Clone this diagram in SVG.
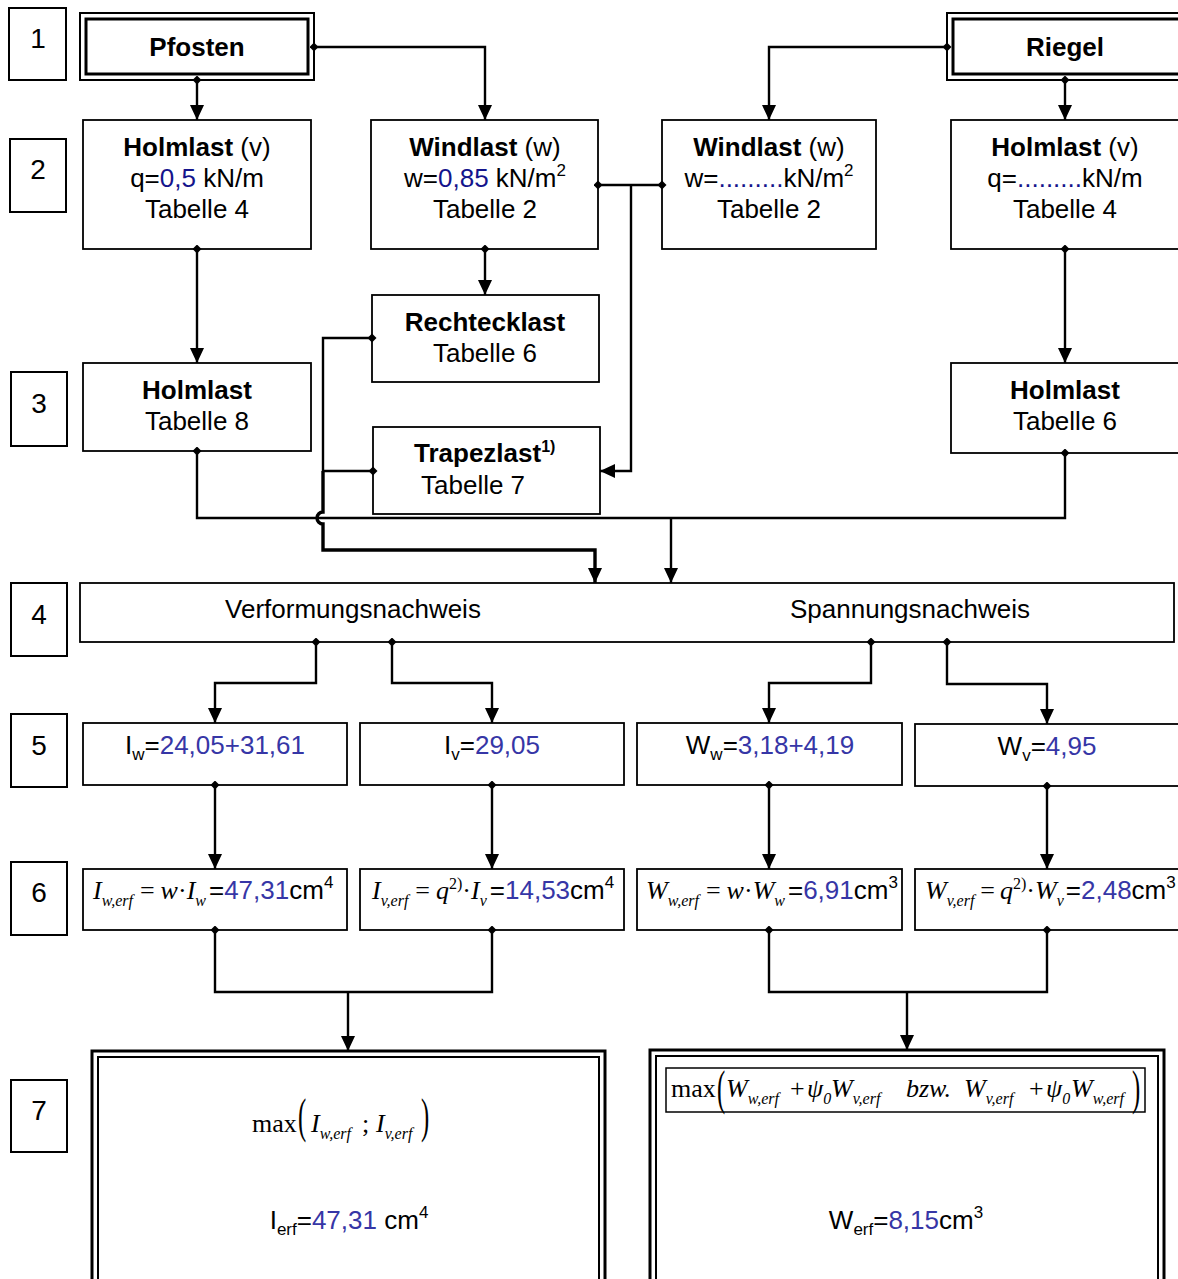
<svg xmlns="http://www.w3.org/2000/svg" width="1178" height="1279" viewBox="0 0 1178 1279">
  <style>
    .bg { fill: #ffffff; }
    .box { fill: #ffffff; stroke: #000000; stroke-width: 1.8; }
    .num { fill: #ffffff; stroke: #000000; stroke-width: 2; }
    .outer { fill: #ffffff; stroke: #000000; stroke-width: 2; }
    .inner { fill: none; stroke: #000000; stroke-width: 3; }
    .outer7 { fill: #ffffff; stroke: #000000; stroke-width: 3; }
    .inner7 { fill: none; stroke: #000000; stroke-width: 2; }
    .fbox { fill: none; stroke: #000000; stroke-width: 1.5; }
    text { font-family: 'Liberation Sans', Arial, sans-serif; font-size: 26px; fill: #000000; }
    .c { text-anchor: middle; }
    .b { font-weight: bold; }
    .nlab { font-size: 28px; text-anchor: middle; }
    .navy { fill: #14148c; }
    .blue { fill: #3636a6; }
    .sub { font-size: 17px; }
    .mr { font-family: 'Liberation Serif', 'Times New Roman', serif; font-size: 26px; }
    .mi { font-family: 'Liberation Serif', 'Times New Roman', serif; font-style: italic; font-size: 26px; }
    .ms { font-family: 'Liberation Serif', 'Times New Roman', serif; font-style: italic; font-size: 16px; }
    .msr { font-family: 'Liberation Serif', 'Times New Roman', serif; font-size: 16px; }
    .ln { fill: none; stroke: #000000; stroke-width: 2.4; }
    .thick { fill: none; stroke: #000000; stroke-width: 3.4; }
    .arr { marker-end: url(#arrow); }
    .ds { marker-start: url(#dia); }
    .de { marker-end: url(#dia); }
  </style>
  <defs>
    <marker id="arrow" markerUnits="userSpaceOnUse" markerWidth="16" markerHeight="15" refX="15" refY="7" orient="auto">
      <path d="M0,0 L15,7 L0,14 Z" fill="#000000"/>
    </marker>
    <marker id="dia" markerUnits="userSpaceOnUse" markerWidth="9" markerHeight="9" refX="4.5" refY="4.5" orient="auto">
      <path d="M0,4.5 L4.5,0 L9,4.5 L4.5,9 Z" fill="#000000"/>
    </marker>
  </defs>

  <rect class="bg" x="0" y="0" width="1178" height="1279"/>

  <!-- row numbers -->
  <g id="row-numbers">
    <rect class="num" x="9" y="8" width="57" height="72"/>
    <text class="nlab" x="38" y="48">1</text>
    <rect class="num" x="10" y="139" width="56" height="73"/>
    <text class="nlab" x="38" y="179">2</text>
    <rect class="num" x="11" y="372" width="56" height="74"/>
    <text class="nlab" x="39" y="413">3</text>
    <rect class="num" x="11" y="583" width="56" height="73"/>
    <text class="nlab" x="39" y="624">4</text>
    <rect class="num" x="11" y="714" width="56" height="73"/>
    <text class="nlab" x="39" y="755">5</text>
    <rect class="num" x="11" y="862" width="56" height="73"/>
    <text class="nlab" x="39" y="902">6</text>
    <rect class="num" x="11" y="1080" width="56" height="72"/>
    <text class="nlab" x="39" y="1120">7</text>
  </g>

  <!-- row 1 -->
  <g id="pfosten">
    <rect class="outer" x="80" y="13" width="234" height="67"/>
    <rect class="inner" x="86" y="19" width="222" height="55"/>
    <text class="c b" x="197" y="56">Pfosten</text>
  </g>
  <g id="riegel">
    <rect class="outer" x="947" y="13" width="240" height="67"/>
    <rect class="inner" x="953" y="19" width="228" height="55"/>
    <text class="c b" x="1065" y="56">Riegel</text>
  </g>

  <!-- row 2 -->
  <g id="holmlast-pfosten">
    <rect class="box" x="83" y="120" width="228" height="129"/>
    <text class="c" x="197" y="156"><tspan class="b">Holmlast</tspan> (v)</text>
    <text class="c" x="197" y="187">q=<tspan class="navy">0,5</tspan> kN/m</text>
    <text class="c" x="197" y="218">Tabelle 4</text>
  </g>
  <g id="windlast-pfosten">
    <rect class="box" x="371" y="120" width="227" height="129"/>
    <text class="c" x="485" y="156"><tspan class="b">Windlast</tspan> (w)</text>
    <text class="c" x="485" y="187">w=<tspan class="navy">0,85</tspan> kN/m<tspan class="sub" dy="-11">2</tspan></text>
    <text class="c" x="485" y="218">Tabelle 2</text>
  </g>
  <g id="windlast-riegel">
    <rect class="box" x="662" y="120" width="214" height="129"/>
    <text class="c" x="769" y="156"><tspan class="b">Windlast</tspan> (w)</text>
    <text class="c" x="769" y="187">w=<tspan class="navy">.........</tspan>kN/m<tspan class="sub" dy="-11">2</tspan></text>
    <text class="c" x="769" y="218">Tabelle 2</text>
  </g>
  <g id="holmlast-riegel">
    <rect class="box" x="951" y="120" width="232" height="129"/>
    <text class="c" x="1065" y="156"><tspan class="b">Holmlast</tspan> (v)</text>
    <text class="c" x="1065" y="187">q=<tspan class="navy">.........</tspan>kN/m</text>
    <text class="c" x="1065" y="218">Tabelle 4</text>
  </g>

  <!-- row 3 -->
  <g id="rechtecklast">
    <rect class="box" x="372" y="295" width="227" height="87"/>
    <text class="c b" x="485" y="331">Rechtecklast</text>
    <text class="c" x="485" y="362">Tabelle 6</text>
  </g>
  <g id="holmlast-tab8">
    <rect class="box" x="83" y="363" width="228" height="88"/>
    <text class="c b" x="197" y="399">Holmlast</text>
    <text class="c" x="197" y="430">Tabelle 8</text>
  </g>
  <g id="holmlast-tab6">
    <rect class="box" x="951" y="363" width="232" height="90"/>
    <text class="c b" x="1065" y="399">Holmlast</text>
    <text class="c" x="1065" y="430">Tabelle 6</text>
  </g>
  <g id="trapezlast">
    <rect class="box" x="373" y="427" width="227" height="87"/>
    <text class="b" x="414" y="462">Trapezlast<tspan font-size="16" dy="-10">1)</tspan></text>
    <text x="421" y="494">Tabelle 7</text>
  </g>

  <!-- row 4 -->
  <g id="nachweis">
    <rect class="box" x="80" y="583" width="1094" height="59"/>
    <text class="c" x="353" y="618">Verformungsnachweis</text>
    <text class="c" x="910" y="618">Spannungsnachweis</text>
  </g>

  <!-- row 5 -->
  <g id="iw">
    <rect class="box" x="83" y="723" width="264" height="62"/>
    <text class="c" x="215" y="754">I<tspan class="sub" dy="6">w</tspan><tspan dy="-6">=</tspan><tspan class="blue">24,05+31,61</tspan></text>
  </g>
  <g id="iv">
    <rect class="box" x="360" y="723" width="264" height="62"/>
    <text class="c" x="492" y="754">I<tspan class="sub" dy="6">v</tspan><tspan dy="-6">=</tspan><tspan class="blue">29,05</tspan></text>
  </g>
  <g id="ww">
    <rect class="box" x="637" y="723" width="265" height="62"/>
    <text class="c" x="770" y="754">W<tspan class="sub" dy="6">w</tspan><tspan dy="-6">=</tspan><tspan class="blue">3,18+4,19</tspan></text>
  </g>
  <g id="wv">
    <rect class="box" x="915" y="724" width="270" height="62"/>
    <text class="c" x="1047" y="755">W<tspan class="sub" dy="6">v</tspan><tspan dy="-6">=</tspan><tspan class="blue">4,95</tspan></text>
  </g>

  <!-- row 6 -->
  <g id="iw-erf">
    <rect class="box" x="83" y="869" width="264" height="61"/>
    <text x="93" y="899"><tspan class="mi">I</tspan><tspan class="ms" dy="7">w,erf</tspan><tspan class="mr" dy="-7" dx="7">=</tspan><tspan class="mi" dx="6">w</tspan><tspan class="mr">·</tspan><tspan class="mi">I</tspan><tspan class="ms" dy="7">w</tspan><tspan dy="-7" dx="3">=</tspan><tspan class="blue">47,31</tspan>cm<tspan class="sub" dy="-11">4</tspan></text>
  </g>
  <g id="iv-erf">
    <rect class="box" x="360" y="869" width="264" height="61"/>
    <text x="372" y="899"><tspan class="mi">I</tspan><tspan class="ms" dy="7">v,erf</tspan><tspan class="mr" dy="-7" dx="7">=</tspan><tspan class="mi" dx="6">q</tspan><tspan class="msr" dy="-10">2)</tspan><tspan class="mr" dy="10">·</tspan><tspan class="mi">I</tspan><tspan class="ms" dy="7">v</tspan><tspan dy="-7" dx="3">=</tspan><tspan class="blue">14,53</tspan>cm<tspan class="sub" dy="-11">4</tspan></text>
  </g>
  <g id="ww-erf">
    <rect class="box" x="637" y="869" width="265" height="61"/>
    <text x="646" y="899"><tspan class="mi">W</tspan><tspan class="ms" dy="7">w,erf</tspan><tspan class="mr" dy="-7" dx="7">=</tspan><tspan class="mi" dx="6">w</tspan><tspan class="mr">·</tspan><tspan class="mi">W</tspan><tspan class="ms" dy="7">w</tspan><tspan dy="-7" dx="3">=</tspan><tspan class="blue">6,91</tspan>cm<tspan class="sub" dy="-11">3</tspan></text>
  </g>
  <g id="wv-erf">
    <rect class="box" x="915" y="869" width="270" height="61"/>
    <text x="925" y="899"><tspan class="mi">W</tspan><tspan class="ms" dy="7">v,erf</tspan><tspan class="mr" dy="-7" dx="6">=</tspan><tspan class="mi" dx="5">q</tspan><tspan class="msr" dy="-10">2)</tspan><tspan class="mr" dy="10">·</tspan><tspan class="mi">W</tspan><tspan class="ms" dy="7">v</tspan><tspan dy="-7" dx="2">=</tspan><tspan class="blue">2,48</tspan>cm<tspan class="sub" dy="-11">3</tspan></text>
  </g>

  <!-- row 7 -->
  <g id="i-erf">
    <rect class="outer7" x="92" y="1051" width="513" height="240"/>
    <rect class="inner7" x="98" y="1057" width="501" height="240"/>
    <text class="mr" x="252" y="1132">max</text>
    <text class="mr" transform="translate(298,1132) scale(0.95,1.9)">(</text>
    <text class="mi" x="311" y="1132">I<tspan class="ms" dy="7">w,erf</tspan></text>
    <text class="mr" x="362" y="1132">;</text>
    <text class="mi" x="376" y="1132">I<tspan class="ms" dy="7">v,erf</tspan></text>
    <text class="mr" transform="translate(421,1132) scale(0.95,1.9)">)</text>
    <text class="c" x="349" y="1229">I<tspan class="sub" dy="6">erf</tspan><tspan dy="-6">=</tspan><tspan class="blue">47,31</tspan> cm<tspan class="sub" dy="-11">4</tspan></text>
  </g>
  <g id="w-erf">
    <rect class="outer7" x="650" y="1050" width="514" height="240"/>
    <rect class="inner7" x="656" y="1056" width="502" height="240"/>
    <rect class="fbox" x="666" y="1068" width="479" height="44"/>
    <text class="mr" x="671" y="1097">max</text>
    <text class="mr" transform="translate(717,1104) scale(0.95,1.9)">(</text>
    <text class="mi" x="726" y="1097">W<tspan class="ms" dy="7">w,erf</tspan></text>
    <text class="mr" x="790" y="1097">+</text>
    <text class="mi" x="807" y="1097">ψ<tspan class="msr" dy="7">0</tspan></text>
    <text class="mi" x="831" y="1097">W<tspan class="ms" dy="7">v,erf</tspan></text>
    <text class="mi" x="906" y="1097">bzw.</text>
    <text class="mi" x="964" y="1097">W<tspan class="ms" dy="7">v,erf</tspan></text>
    <text class="mr" x="1029" y="1097">+</text>
    <text class="mi" x="1046" y="1097">ψ<tspan class="msr" dy="7">0</tspan></text>
    <text class="mi" x="1071" y="1097">W<tspan class="ms" dy="7">w,erf</tspan></text>
    <text class="mr" transform="translate(1132,1104) scale(0.95,1.9)">)</text>
    <text class="c" x="906" y="1229">W<tspan class="sub" dy="6">erf</tspan><tspan dy="-6">=</tspan><tspan class="blue">8,15</tspan>cm<tspan class="sub" dy="-11">3</tspan></text>
  </g>

  <!-- connectors -->
  <g id="connectors">
    <!-- row 1 to row 2 -->
    <path class="ln ds arr" d="M197,80 V120"/>
    <path class="ln ds arr" d="M314,47 H485 V120"/>
    <path class="ln ds arr" d="M947,47 H769 V120"/>
    <path class="ln ds arr" d="M1065,80 V120"/>
    <!-- row 2 to row 3 -->
    <path class="ln ds arr" d="M197,249 V363"/>
    <path class="ln ds arr" d="M485,249 V295"/>
    <path class="ln ds arr" d="M1065,249 V363"/>
    <path class="ln ds de" d="M598,185 H662"/>
    <path class="ln arr" d="M631,185 V471 H600"/>
    <!-- load cases into row 4 -->
    <path class="ln ds" d="M372,338 H323 V471"/>
    <path class="ln ds" d="M373,471 H323"/>
    <path class="thick arr" d="M323,471 V512 A6,6 0 0 0 323,524 V550 H595 V583"/>
    <path class="ln ds" d="M197,451 V518 H671"/>
    <path class="ln ds" d="M1065,453 V518 H671"/>
    <path class="ln arr" d="M671,518 V583"/>
    <!-- row 4 to row 5 -->
    <path class="ln ds arr" d="M316,642 V683 H215 V723"/>
    <path class="ln ds arr" d="M392,642 V683 H492 V723"/>
    <path class="ln ds arr" d="M871,642 V683 H769 V723"/>
    <path class="ln ds arr" d="M947,642 V684 H1047 V724"/>
    <!-- row 5 to row 6 -->
    <path class="ln ds arr" d="M215,785 V869"/>
    <path class="ln ds arr" d="M492,785 V869"/>
    <path class="ln ds arr" d="M769,785 V869"/>
    <path class="ln ds arr" d="M1047,786 V869"/>
    <!-- row 6 to row 7 -->
    <path class="ln ds de" d="M215,930 V992 H492 V930"/>
    <path class="ln arr" d="M348,992 V1051"/>
    <path class="ln ds de" d="M769,930 V992 H1047 V930"/>
    <path class="ln arr" d="M907,992 V1050"/>
  </g>
</svg>
